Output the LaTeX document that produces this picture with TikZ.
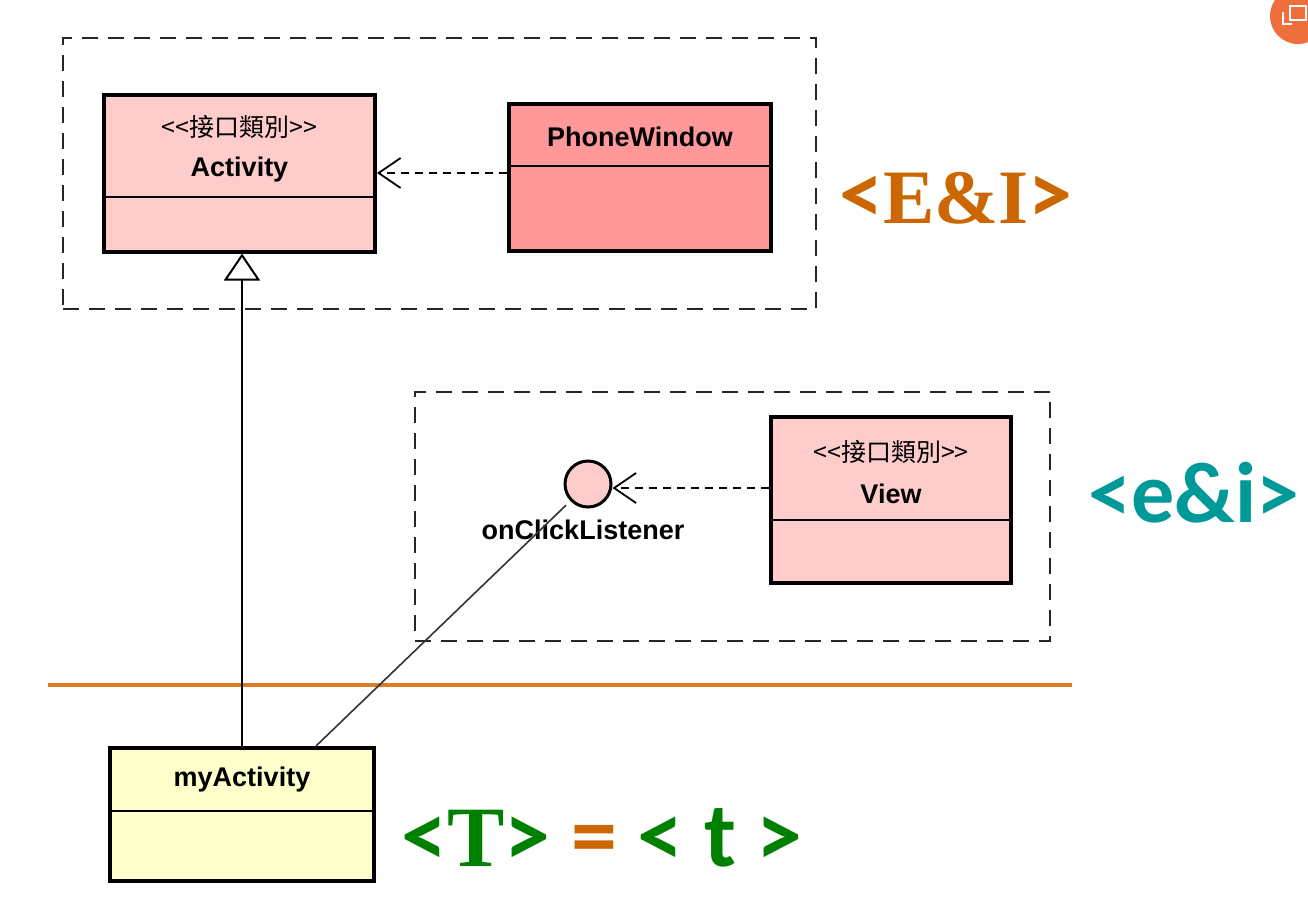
\documentclass[tikz,border=0pt]{standalone}
\usepackage{fontspec}
\setmainfont{Liberation Sans}
\newfontfamily\cjkfont{Noto Sans CJK TC}
\newfontfamily\serifbig{Liberation Serif}
\newfontfamily\calfont{Carlito}
\usetikzlibrary{arrows.meta,calc}
\definecolor{pinkA}{RGB}{255,204,204}
\definecolor{pinkB}{RGB}{255,153,153}
\definecolor{yel}{RGB}{255,255,204}
\definecolor{eiorange}{RGB}{204,102,0}
\definecolor{tealc}{RGB}{0,153,153}
\definecolor{grn}{RGB}{0,128,0}
\definecolor{sepline}{RGB}{218,124,40}
\definecolor{btn}{RGB}{238,110,60}
\begin{document}
\begin{tikzpicture}[x=1pt,y=-1pt,
 classbox/.style={draw=black, line width=4pt, rectangle, inner sep=0pt},
 divider/.style={line width=2pt},
 pkgframe/.style={draw=black!85, line width=2pt, dash pattern=on 16pt off 10pt, rectangle, inner sep=0pt},
 dep/.style={line width=1.6pt, dash pattern=on 8pt off 6pt, -{Straight Barb[length=22pt,width=30pt,line width=1.8pt]}},
 gen/.style={line width=1.8pt, -{Triangle[open,length=27pt,width=36pt,line width=2pt,fill=white]}},
 assoc/.style={line width=1.6pt, draw=black!80},
 clsname/.style={font=\fontsize{27}{32}\selectfont\bfseries, inner sep=0pt},
 stereo/.style={font=\cjkfont\fontsize{25}{30}\selectfont, inner sep=0pt},
 sep/.style={draw=sepline, line width=4pt},
]
\useasboundingbox (0,0) rectangle (1308,916);
\fill[white] (0,0) rectangle (1308,916);

% top-right button
\fill[btn] (1298,16) circle (28);
\draw[white, line width=2pt] (1290,6) rectangle (1306,20);
\draw[white, line width=2pt] (1283,12) -- (1283,24) -- (1292,24);

% package frames
\node[pkgframe, minimum width=753, minimum height=271] (pkgA) at (439.5,173.5) {};
\node[pkgframe, minimum width=635, minimum height=249] (pkgB) at (732.5,516.5) {};

% separator
\coordinate (sepL) at (48,685);
\coordinate (sepR) at (1072,685);
\draw[sep] (sepL) -- (sepR);

% Activity
\node[classbox, fill=pinkA, minimum width=271, minimum height=157] (act) at (239.5,173) {};
\draw[divider] (act.west |- 0,197) -- (act.east |- 0,197);
\node[stereo] (actS) at (239.5,127) {<<接口類別>>};
\node[clsname] (actN) at (239.5,170) {Activity};

% PhoneWindow
\node[classbox, fill=pinkB, minimum width=262, minimum height=147] (pw) at (640,177.5) {};
\draw[divider] (pw.west |- 0,166) -- (pw.east |- 0,166);
\node[clsname] (pwN) at (640,137) {PhoneWindow};

% View
\node[classbox, fill=pinkA, minimum width=240, minimum height=166] (v) at (891,500) {};
\draw[divider] (v.west |- 0,520) -- (v.east |- 0,520);
\node[stereo] (vS) at (891,452) {<<接口類別>>};
\node[clsname] (vN) at (891,494) {View};

% myActivity
\node[classbox, fill=yel, minimum width=264, minimum height=133] (my) at (242,814.5) {};
\draw[divider] (my.west |- 0,811) -- (my.east |- 0,811);
\node[clsname] (myN) at (242,780) {myActivity};

% interface lollipop
\node[circle, draw=black, line width=3pt, fill=pinkA, minimum size=46, inner sep=0pt] (ocl) at (588,484) {};
\node[clsname] (oclN) at (583,530) {onClickListener};

% connectors
\draw[dep] (pw.west |- act.east) -- (act.east);
\coordinate (vin) at ($(v.west)+(0,-12)$);
\draw[dep] (vin) -- (vin -| ocl.east);
\draw[gen] (my.north) -- (my.north |- act.south);
\coordinate (mtop) at ($(my.north)+(74,0)$);
\draw[assoc, shorten >=6pt] (mtop) -- (ocl);

% labels
\node[inner sep=0pt, text=eiorange] (ei) at (956,198)
  {{\calfont\bfseries\fontsize{88}{90}\selectfont <}{\serifbig\bfseries\fontsize{77}{80}\selectfont E\&I}{\calfont\bfseries\fontsize{88}{90}\selectfont >}};
\node[inner sep=0pt, text=tealc, font=\calfont\bfseries\fontsize{86}{90}\selectfont] (eil) at (1194,493) {<e\&i>};
\node[inner sep=0pt, text=grn, font=\calfont\bfseries\fontsize{92}{96}\selectfont] (tl) at (602,838)
  {<{\serifbig\bfseries\fontsize{86}{90}\selectfont T}> {\color{eiorange}=} < t >};
\end{tikzpicture}
\end{document}
